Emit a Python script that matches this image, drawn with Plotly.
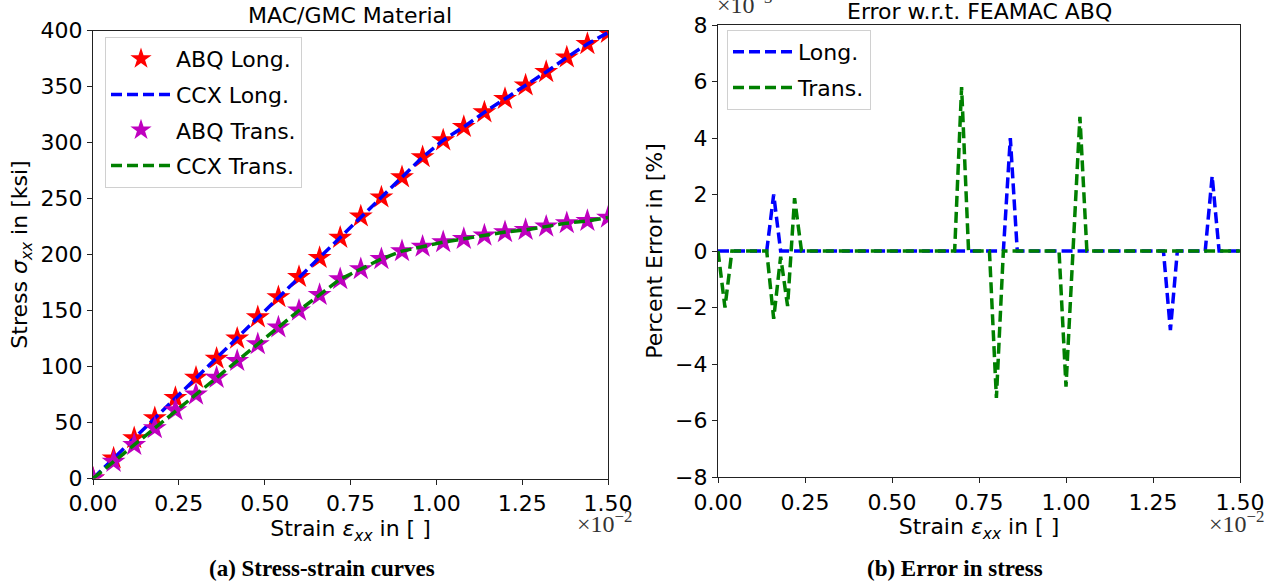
import plotly.graph_objects as go

# ---------------- data ----------------
# Left panel: stress-strain (strain in units of 1e-2)
strain = [0.00, 0.06, 0.12, 0.18, 0.24, 0.30, 0.36, 0.42, 0.48, 0.54, 0.60, 0.66, 0.72,
          0.78, 0.84, 0.90, 0.96, 1.02, 1.08, 1.14, 1.20, 1.26, 1.32, 1.38, 1.44, 1.50]
abq_long = [0, 18, 36, 54, 72, 90, 107, 125, 144, 162, 180, 197, 215,
            234, 251, 269, 287, 302, 314, 327, 339, 351, 363, 376, 388, 398]
ccx_long = [0, 18, 36, 54, 72, 90, 107, 125, 144, 162, 180, 197, 215,
            234, 251, 269, 287, 302, 314, 327, 339, 351, 363, 376, 388, 398]
abq_trans = [0, 15, 30, 45, 61, 75, 90, 105, 120, 135, 150, 164, 178,
             187, 196, 203, 207, 211, 214, 217, 220, 222, 225, 228, 230, 233]
ccx_trans = [0, 15, 30, 45, 61, 75, 90, 105, 120, 135, 150, 164, 178,
             187, 196, 203, 207, 211, 214, 217, 220, 222, 225, 228, 230, 233]

# Right panel: percent error (x1e-3), vertices of the curves
err_long_x = [0.00, 0.14, 0.16, 0.18, 0.82, 0.84, 0.86, 1.28, 1.30, 1.32, 1.40, 1.42, 1.44, 1.50]
err_long_y = [0, 0, 2.0, 0, 0, 4.0, 0, 0, -2.8, 0, 0, 2.65, 0, 0]
err_trans_x = [0.00, 0.02, 0.04, 0.14, 0.16, 0.18, 0.20, 0.22, 0.24, 0.68, 0.70, 0.72,
               0.78, 0.80, 0.82, 0.98, 1.00, 1.02, 1.04, 1.06, 1.50]
err_trans_y = [0, -2.0, 0, 0, -2.4, -0.2, -1.95, 1.87, 0, 0, 5.8, 0,
               0, -5.2, 0, 0, -4.8, 0, 4.75, 0, 0]

x_ticks = [0.0, 0.25, 0.5, 0.75, 1.0, 1.25, 1.5]
left_y_ticks = [0, 50, 100, 150, 200, 250, 300, 350, 400]
right_y_ticks = [-8, -6, -4, -2, 0, 2, 4, 6, 8]

# ---------------- figure ----------------
W, H = 1275, 584
FONT = "DejaVu Sans"
DASH = "11px,5px"

fig = go.Figure()

fig.add_trace(go.Scatter(x=strain, y=abq_long, mode="markers", name="ABQ Long.",
                         marker=dict(symbol="star", size=18, color="#ff0000"),
                         legendgroup="a", xaxis="x", yaxis="y"))
fig.add_trace(go.Scatter(x=strain, y=ccx_long, mode="lines", name="CCX Long.",
                         line=dict(color="#0000ff", width=3.5, dash=DASH),
                         legendgroup="b", xaxis="x", yaxis="y"))
fig.add_trace(go.Scatter(x=strain, y=abq_trans, mode="markers", name="ABQ Trans.",
                         marker=dict(symbol="star", size=18, color="#bf00bf"),
                         legendgroup="c", xaxis="x", yaxis="y"))
fig.add_trace(go.Scatter(x=strain, y=ccx_trans, mode="lines", name="CCX Trans.",
                         line=dict(color="#008000", width=3.5, dash=DASH),
                         legendgroup="d", xaxis="x", yaxis="y"))

fig.add_trace(go.Scatter(x=err_long_x, y=err_long_y, mode="lines", name="Long.",
                         line=dict(color="#0000ff", width=3.5, dash=DASH),
                         legend="legend2", legendgroup="e", xaxis="x2", yaxis="y2"))
fig.add_trace(go.Scatter(x=err_trans_x, y=err_trans_y, mode="lines", name="Trans.",
                         line=dict(color="#008000", width=3.5, dash=DASH),
                         legend="legend2", legendgroup="f", xaxis="x2", yaxis="y2"))


def px_x(p):
    return p / W


def px_y(p):
    return (H - p) / H


axis_common = dict(showgrid=False, zeroline=False, showline=True, mirror=True,
                   linecolor="#222222", linewidth=1.2, ticks="outside", ticklen=5,
                   tickwidth=1.2, tickcolor="#222222", automargin=False,
                   tickfont=dict(family=FONT, size=22, color="black"))

xtitle = dict(text="Strain <i>ε</i><sub><i>xx</i></sub> in [ ]",
              font=dict(family=FONT, size=22, color="black"), standoff=4)

fig.update_layout(
    width=W, height=H,
    margin=dict(l=0, r=0, t=0, b=0, autoexpand=False),
    paper_bgcolor="white", plot_bgcolor="white",
    font=dict(family=FONT, color="black"),
    showlegend=True,
    xaxis=dict(domain=[px_x(93), px_x(608)], range=[0, 1.5], tickvals=x_ticks,
               tickformat=".2f", title=xtitle, anchor="y", **axis_common),
    yaxis=dict(domain=[px_y(478.5), px_y(30.5)], range=[0, 400], tickvals=left_y_ticks,
               title=dict(text="Stress <i>σ</i><sub><i>xx</i></sub> in [ksi]",
                          font=dict(family=FONT, size=22, color="black"), standoff=6),
               anchor="x", **axis_common),
    xaxis2=dict(domain=[px_x(718), px_x(1240)], range=[0, 1.5], tickvals=x_ticks,
                tickformat=".2f", title=xtitle, anchor="y2", **axis_common),
    yaxis2=dict(domain=[px_y(477), px_y(25)], range=[-8, 8], tickvals=right_y_ticks,
                title=dict(text="Percent Error in [%]",
                           font=dict(family=FONT, size=22, color="black"), standoff=6),
                anchor="x2", **axis_common),
    legend=dict(x=px_x(105), y=px_y(37), xanchor="left", yanchor="top",
                bgcolor="white", bordercolor="#d0d0d0", borderwidth=1,
                font=dict(family=FONT, size=22, color="black"),
                tracegroupgap=4, itemwidth=60),
    legend2=dict(x=px_x(727), y=px_y(30), xanchor="left", yanchor="top",
                 bgcolor="white", bordercolor="#d0d0d0", borderwidth=1,
                 font=dict(family=FONT, size=22, color="black"),
                 tracegroupgap=4, itemwidth=60),
)

annotations = [
    dict(text="MAC/GMC Material", x=px_x(350), y=px_y(15), xref="paper", yref="paper",
         xanchor="center", yanchor="middle", showarrow=False,
         font=dict(family=FONT, size=22, color="black")),
    dict(text="Error w.r.t. FEAMAC ABQ", x=px_x(979), y=px_y(12), xref="paper", yref="paper",
         xanchor="center", yanchor="middle", showarrow=False,
         font=dict(family=FONT, size=22, color="black")),
    dict(text="×10<sup>−3</sup>", x=px_x(715), y=px_y(3), xref="paper", yref="paper",
         xanchor="left", yanchor="middle", showarrow=False,
         font=dict(family="Liberation Serif", size=24, color="#333333")),
    dict(text="×10<sup>−2</sup>", x=px_x(634), y=px_y(522), xref="paper", yref="paper",
         xanchor="right", yanchor="middle", showarrow=False,
         font=dict(family="Liberation Serif", size=24, color="#333333")),
    dict(text="×10<sup>−2</sup>", x=px_x(1266), y=px_y(522), xref="paper", yref="paper",
         xanchor="right", yanchor="middle", showarrow=False,
         font=dict(family="Liberation Serif", size=24, color="#333333")),
    dict(text="<b>(a) Stress-strain curves</b>", x=px_x(322), y=px_y(568), xref="paper",
         yref="paper", xanchor="center", yanchor="middle", showarrow=False,
         font=dict(family="Liberation Serif", size=23, color="black")),
    dict(text="<b>(b) Error in stress</b>", x=px_x(955), y=px_y(568), xref="paper",
         yref="paper", xanchor="center", yanchor="middle", showarrow=False,
         font=dict(family="Liberation Serif", size=23, color="black")),
]
fig.update_layout(annotations=annotations)

fig.write_html("out.html", config={"displayModeBar": False},
               post_script="document.body.style.margin='0px';")
